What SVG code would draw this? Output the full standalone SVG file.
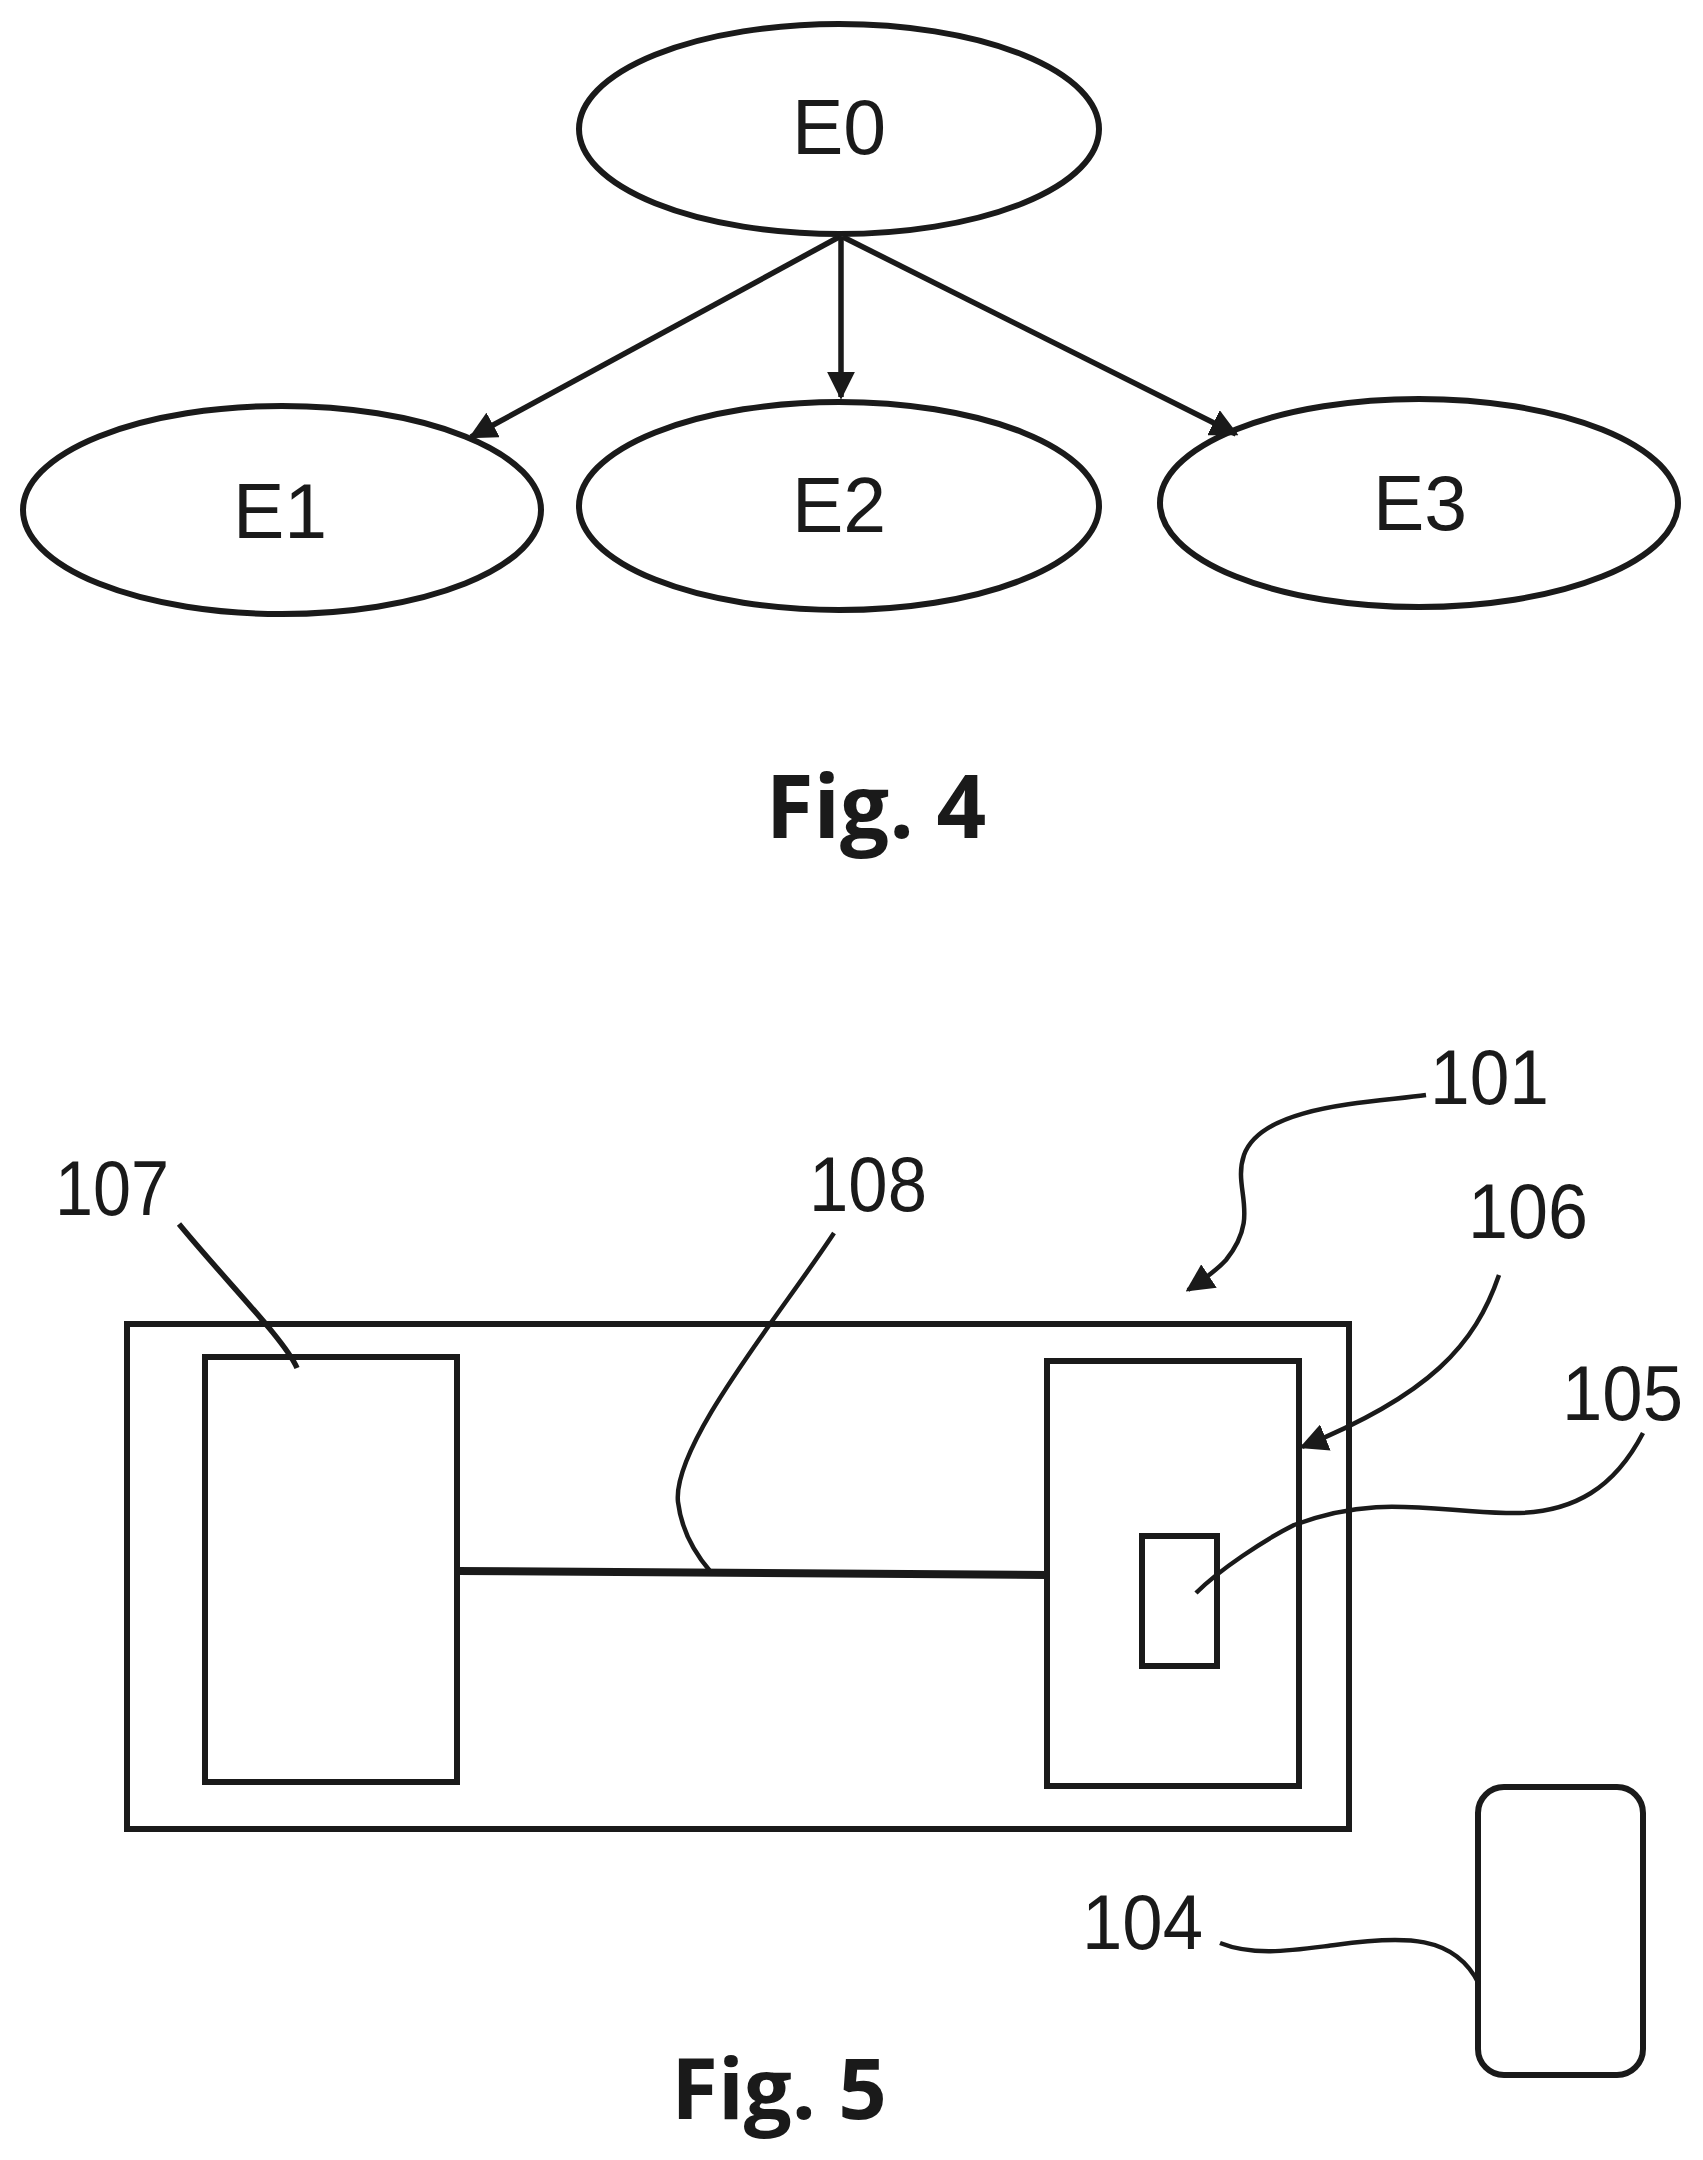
<svg xmlns="http://www.w3.org/2000/svg" width="1703" height="2160" viewBox="0 0 1703 2160">
<style>
.n{fill:#fff;stroke:#1a1a1a;stroke-width:6}
.t{font-family:"Liberation Sans",Arial,sans-serif;font-size:77px;fill:#1a1a1a}
.m{text-anchor:middle}
.f{font-family:"Open Sans","Noto Sans",sans-serif;font-weight:700;fill:#1a1a1a;text-anchor:middle}
.c{fill:none;stroke:#1a1a1a;stroke-width:5.5}
.l{fill:none;stroke:#1a1a1a;stroke-width:4.5}
</style>
<defs>
<marker id="a" viewBox="0 0 10 10" refX="9" refY="5" markerWidth="28" markerHeight="28" markerUnits="userSpaceOnUse" orient="auto"><path d="M0 0L10 5L0 10Z" fill="#1a1a1a"/></marker>
</defs>
<rect width="1703" height="2160" fill="#fff"/>
<g id="E0"><ellipse class="n" cx="839" cy="129" rx="260" ry="105"/><text class="t m" x="839" y="154">E0</text></g>
<g id="E1"><ellipse class="n" cx="282" cy="510" rx="259" ry="104"/><text class="t m" x="280" y="538">E1</text></g>
<g id="E2"><ellipse class="n" cx="839" cy="506" rx="260" ry="104"/><text class="t m" x="839" y="532">E2</text></g>
<g id="E3"><ellipse class="n" cx="1419" cy="503" rx="259" ry="104"/><text class="t m" x="1420" y="530">E3</text></g>
<g id="fig4"><text class="f" style="font-size:87px" x="876" y="838">Fig. 4</text></g>
<g id="n101"><rect class="n" x="127" y="1324" width="1222" height="505"/></g>
<g id="n107"><rect class="n" x="205" y="1357" width="252" height="425"/></g>
<g id="n106"><rect class="n" x="1047" y="1361" width="252" height="425"/></g>
<g id="n105"><rect class="n" x="1142" y="1536" width="75" height="130"/></g>
<g id="n104"><rect class="n" x="1478" y="1787" width="165" height="288" rx="26"/></g>
<g id="connectors">
<line class="c" x1="839" y1="237" x2="471" y2="437" marker-end="url(#a)"/>
<line class="c" x1="841" y1="237" x2="841" y2="397" marker-end="url(#a)"/>
<line class="c" x1="843" y1="237" x2="1236" y2="434" marker-end="url(#a)"/>
<path d="M457 1571L1047 1575" fill="none" stroke="#1a1a1a" stroke-width="8"/>
<path class="l" d="M1426 1095C1370 1103 1262 1105 1244 1155C1232 1190 1262 1215 1226 1260C1215 1272 1200 1282 1188 1290" marker-end="url(#a)"/>
<path class="c" d="M179 1224C225 1280 285 1340 297 1368"/>
<path class="l" d="M834 1233C780 1315 672 1445 678 1502C682 1535 698 1557 710 1571"/>
<path class="l" d="M1499 1275C1475 1345 1430 1395 1302 1447" marker-end="url(#a)"/>
<path class="l" d="M1643 1433C1616 1485 1576 1515 1506 1513C1424 1510 1374 1495 1294 1525C1264 1540 1219 1570 1196 1593"/>
<path class="l" d="M1220 1943C1255 1957 1295 1950 1335 1945C1405 1935 1455 1935 1479 1984"/>
</g>
<g id="labels">
<text class="t" x="1430" y="1104" textLength="119" lengthAdjust="spacingAndGlyphs">101</text>
<text class="t" x="55" y="1215" textLength="114" lengthAdjust="spacingAndGlyphs">107</text>
<text class="t" x="809" y="1211" textLength="118" lengthAdjust="spacingAndGlyphs">108</text>
<text class="t" x="1468" y="1238" textLength="120" lengthAdjust="spacingAndGlyphs">106</text>
<text class="t" x="1562" y="1420" textLength="121" lengthAdjust="spacingAndGlyphs">105</text>
<text class="t" x="1082" y="1949" textLength="121" lengthAdjust="spacingAndGlyphs">104</text>
<text class="f" style="font-size:85px" x="779" y="2119">Fig. 5</text>
</g>
</svg>
